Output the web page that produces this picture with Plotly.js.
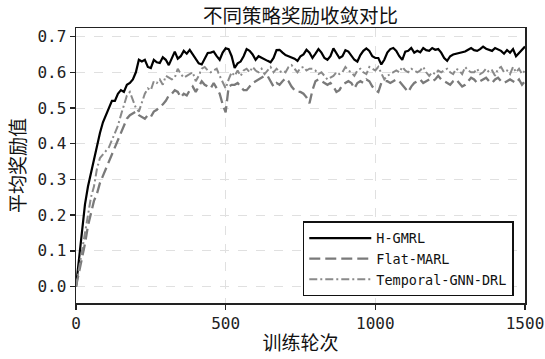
<!DOCTYPE html>
<html>
<head>
<meta charset="utf-8">
<script src="https://cdn.plot.ly/plotly-3.0.1.min.js"></script>
<style>html,body{margin:0;padding:0;background:#fff;}#chart{width:545px;height:359px;}</style>
</head>
<body>
<div id="chart"></div>
<script>
// Training epochs (step 10)
const epochs = [];
for (let e = 0; e <= 1500; e += 10) epochs.push(e);

const seriesNames = ["H-GMRL", "Flat-MARL", "Temporal-GNN-DRL"];

const hgmrl = [
0.0,0.08,0.16,0.23,0.28,0.32,0.36,0.39,0.43,0.46,
0.48,0.50,0.52,0.52,0.54,0.55,0.545,0.565,0.57,0.58,
0.60,0.635,0.63,0.635,0.615,0.612,0.635,0.628,0.626,0.642,
0.635,0.62,0.64,0.658,0.638,0.645,0.66,0.652,0.663,0.65,
0.64,0.625,0.622,0.64,0.654,0.655,0.658,0.645,0.635,0.655,
0.667,0.665,0.645,0.612,0.625,0.63,0.645,0.665,0.66,0.65,
0.635,0.645,0.64,0.635,0.632,0.628,0.64,0.662,0.663,0.655,
0.648,0.645,0.642,0.638,0.632,0.645,0.65,0.663,0.655,0.64,
0.652,0.665,0.655,0.64,0.635,0.645,0.667,0.655,0.64,0.645,
0.662,0.658,0.648,0.635,0.63,0.648,0.66,0.667,0.66,0.645,
0.64,0.64,0.622,0.635,0.655,0.665,0.668,0.66,0.645,0.635,
0.658,0.66,0.668,0.655,0.66,0.656,0.668,0.662,0.66,0.668,
0.663,0.665,0.655,0.64,0.632,0.645,0.65,0.652,0.654,0.655,
0.658,0.663,0.668,0.662,0.66,0.665,0.672,0.666,0.663,0.66,
0.668,0.664,0.66,0.652,0.662,0.655,0.665,0.645,0.655,0.665,
0.672];

const flatMarl = [
0.0,0.04,0.07,0.12,0.17,0.21,0.24,0.26,0.29,0.31,
0.33,0.35,0.37,0.39,0.41,0.43,0.445,0.47,0.48,0.485,
0.49,0.48,0.475,0.47,0.48,0.475,0.49,0.495,0.505,0.51,
0.52,0.535,0.54,0.55,0.545,0.53,0.54,0.535,0.55,0.56,
0.545,0.56,0.575,0.565,0.56,0.555,0.57,0.555,0.54,0.51,
0.488,0.56,0.565,0.565,0.57,0.56,0.55,0.55,0.56,0.57,
0.575,0.58,0.585,0.59,0.59,0.575,0.56,0.57,0.565,0.575,
0.583,0.575,0.56,0.55,0.545,0.545,0.54,0.53,0.513,0.55,
0.575,0.58,0.575,0.57,0.565,0.57,0.56,0.545,0.55,0.565,
0.57,0.575,0.57,0.555,0.57,0.575,0.57,0.58,0.575,0.56,
0.55,0.545,0.57,0.575,0.575,0.57,0.575,0.58,0.575,0.565,
0.555,0.545,0.56,0.57,0.575,0.58,0.57,0.575,0.58,0.575,
0.58,0.59,0.58,0.575,0.57,0.565,0.575,0.58,0.57,0.56,
0.565,0.575,0.585,0.58,0.57,0.575,0.58,0.585,0.575,0.57,
0.58,0.585,0.575,0.57,0.575,0.58,0.575,0.57,0.58,0.565,
0.575];

const temporalGnn = [
0.0,0.05,0.10,0.16,0.21,0.25,0.28,0.33,0.36,0.37,
0.38,0.39,0.41,0.43,0.45,0.48,0.51,0.535,0.545,0.52,
0.50,0.49,0.515,0.54,0.555,0.55,0.575,0.57,0.58,0.565,
0.59,0.585,0.58,0.585,0.61,0.595,0.585,0.59,0.595,0.6,
0.575,0.59,0.61,0.615,0.605,0.6,0.605,0.61,0.59,0.57,
0.555,0.58,0.6,0.59,0.605,0.59,0.605,0.61,0.6,0.615,
0.605,0.6,0.61,0.595,0.605,0.615,0.6,0.61,0.6,0.605,
0.6,0.615,0.62,0.61,0.6,0.612,0.615,0.605,0.61,0.61,
0.605,0.595,0.6,0.59,0.58,0.585,0.59,0.6,0.595,0.6,
0.615,0.605,0.6,0.59,0.605,0.61,0.6,0.595,0.615,0.61,
0.605,0.615,0.595,0.58,0.59,0.595,0.6,0.605,0.6,0.615,
0.605,0.6,0.61,0.605,0.6,0.605,0.615,0.6,0.59,0.6,
0.595,0.605,0.6,0.605,0.61,0.6,0.595,0.61,0.605,0.595,
0.615,0.605,0.6,0.6,0.61,0.595,0.6,0.61,0.6,0.605,
0.59,0.61,0.615,0.6,0.605,0.595,0.615,0.6,0.61,0.595,
0.605];

const xTicks = [0, 500, 1000, 1500];
const yTicks = [0.0, 0.1, 0.2, 0.3, 0.4, 0.5, 0.6, 0.7];

const monoFont = "DejaVu Sans Mono, Noto Sans CJK SC, sans-serif";
const cjkFont = "Noto Sans CJK SC, sans-serif";

const traces = [
  {x: epochs, y: hgmrl, name: seriesNames[0], mode: "lines",
   line: {color: "#000000", width: 2.2}},
  {x: epochs, y: flatMarl, name: seriesNames[1], mode: "lines",
   line: {color: "#7a7a7a", width: 2.3, dash: "11px,5px"}},
  {x: epochs, y: temporalGnn, name: seriesNames[2], mode: "lines",
   line: {color: "#8a8a8a", width: 2, dash: "8px,3px,2px,3px"}}
];

const axisCommon = {
  showline: true, mirror: true, linecolor: "#222", linewidth: 1.5,
  ticks: "outside", ticklen: 5, tickwidth: 1.5, tickcolor: "#222",
  showgrid: true, gridcolor: "#e0e0e0", griddash: "dash", gridwidth: 1,
  zeroline: false,
  tickfont: {family: monoFont, size: 16, color: "#222"}
};

const layout = {
  width: 545, height: 359,
  margin: {l: 76, r: 20, t: 28, b: 56},
  paper_bgcolor: "#fff", plot_bgcolor: "#fff",
  title: {text: "不同策略奖励收敛对比", font: {family: cjkFont, size: 19.5, color: "#111"},
          x: 0.5, xref: "paper", y: 0.955, yanchor: "middle"},
  xaxis: Object.assign({}, axisCommon, {
    range: [0, 1500], tickvals: xTicks, ticktext: xTicks.map(String),
    title: {text: "训练轮次", font: {family: cjkFont, size: 19, color: "#111"}, standoff: 5}
  }),
  yaxis: Object.assign({}, axisCommon, {
    range: [-0.046, 0.724], tickvals: yTicks, ticktext: yTicks.map(v => v.toFixed(1)),
    title: {text: "平均奖励值", font: {family: cjkFont, size: 19, color: "#111"}, standoff: 6}
  }),
  showlegend: true,
  legend: {
    x: 0.975, y: 0.024, xanchor: "right", yanchor: "bottom",
    bgcolor: "#fff", bordercolor: "#111", borderwidth: 1.5,
    font: {family: monoFont, size: 13.5, color: "#111"},
    itemwidth: 62, tracegroupgap: 0
  }
};

Plotly.newPlot("chart", traces, layout, {displayModeBar: false, staticPlot: true});
</script>
</body>
</html>
